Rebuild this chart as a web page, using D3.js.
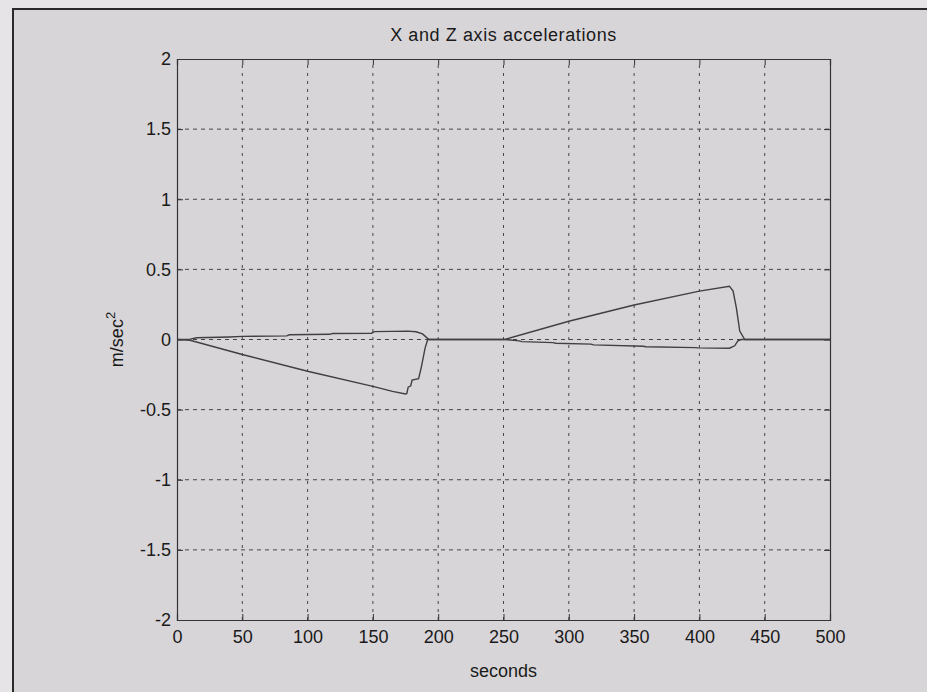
<!DOCTYPE html>
<html><head><meta charset="utf-8">
<script src="https://cdn.jsdelivr.net/npm/d3@7"></script>
<style>
html,body{margin:0;padding:0;background:#e6e4e6;}
svg{display:block;}
text{font-family:"Liberation Sans",Arial,sans-serif;fill:#1a1a1a;}
</style></head>
<body>
<svg id="chart" width="927" height="692"></svg>
<script>
const title = "X and Z axis accelerations";
const xLabel = "seconds";
const xTicks = [0,50,100,150,200,250,300,350,400,450,500];
const yTicks = [-2,-1.5,-1,-0.5,0,0.5,1,1.5,2];
const yTickLabels = ["-2","-1.5","-1","-0.5","0","0.5","1","1.5","2"];

// Series with the large ramps (negative in first manoeuvre, positive in second)
const timeA = [0,10,50,100,150,165,175,176,177,179,180,185,187,190,192,250,251,300,350,400,423,425.8,428.3,430.9,434.7,500];
const accA  = [0,-0.005,-0.107,-0.226,-0.334,-0.37,-0.388,-0.385,-0.34,-0.33,-0.29,-0.28,-0.2,-0.06,0,0,0,0.13,0.246,0.345,0.38,0.345,0.226,0.06,0,0];

// Series with the small steps
const timeB = [0,10,15,40,50,84,86,117,119,149,151,177,183,188,191,193,250,251,262,264,288,290,317,319,357,359,397,399,423,427,429.5,432,500];
const accB  = [0,0.003,0.012,0.018,0.022,0.026,0.034,0.037,0.043,0.045,0.056,0.06,0.055,0.04,0.015,0,0,0,-0.01,-0.015,-0.022,-0.027,-0.033,-0.038,-0.048,-0.052,-0.058,-0.06,-0.062,-0.045,-0.01,0,0];

const svg = d3.select("#chart");
const W = 927, H = 692;
const m = {left:177, right:97, top:59, bottom:72};
const pw = W - m.left - m.right, ph = H - m.top - m.bottom;

// page background (scan)
svg.append("rect").attr("x",13).attr("y",9).attr("width",W).attr("height",H)
  .attr("fill","#d8d5d8").attr("stroke","#2a2a2a").attr("stroke-width",2);

const x = d3.scaleLinear().domain([0,500]).range([m.left, m.left+pw]);
const y = d3.scaleLinear().domain([-2,2]).range([m.top+ph, m.top]);

const g = svg.append("g");

// grid
g.append("g").selectAll("line").data(xTicks.slice(1,-1)).join("line")
  .attr("x1",d=>x(d)).attr("x2",d=>x(d)).attr("y1",y(-2)).attr("y2",y(2))
  .attr("stroke","#454545").attr("stroke-width",1).attr("stroke-dasharray","3,5");
g.append("g").selectAll("line").data(yTicks.slice(1,-1)).join("line")
  .attr("y1",d=>y(d)).attr("y2",d=>y(d)).attr("x1",x(0)).attr("x2",x(500))
  .attr("stroke","#454545").attr("stroke-width",1).attr("stroke-dasharray","4,4");

// axes (MATLAB box with inward ticks on all sides)
const tl = 6;
const axB = d3.axisBottom(x).tickValues(xTicks).tickSize(-tl).tickPadding(10).tickFormat(d3.format("d"));
const axT = d3.axisTop(x).tickValues(xTicks).tickSize(-tl).tickFormat("");
const axL = d3.axisLeft(y).tickValues(yTicks).tickSize(-tl).tickPadding(6).tickFormat((d,i)=>yTickLabels[i]);
const axR = d3.axisRight(y).tickValues(yTicks).tickSize(-tl).tickFormat("");
function style(sel){
  sel.select(".domain").attr("stroke","#333").attr("stroke-width",1.2);
  sel.selectAll(".tick line").attr("stroke","#333");
  sel.selectAll("text").style("font-size","18px").attr("fill","#1a1a1a");
}
g.append("g").attr("transform",`translate(0,${y(-2)})`).call(axB).call(style);
g.append("g").attr("transform",`translate(0,${y(2)})`).call(axT).call(style);
g.append("g").attr("transform",`translate(${x(0)},0)`).call(axL).call(style);
g.append("g").attr("transform",`translate(${x(500)},0)`).call(axR).call(style);

// lines
const line = d3.line().x(d=>x(d[0])).y(d=>y(d[1]));
g.append("path").datum(timeA.map((t,i)=>[t,accA[i]])).attr("d",line)
  .attr("fill","none").attr("stroke","#404040").attr("stroke-width",1.4);
g.append("path").datum(timeB.map((t,i)=>[t,accB[i]])).attr("d",line)
  .attr("fill","none").attr("stroke","#404040").attr("stroke-width",1.4);

// labels
svg.append("text").attr("x",x(250)).attr("y",41).attr("text-anchor","middle")
  .style("font-size","18px").style("letter-spacing","0.6px").text(title);
svg.append("text").attr("x",x(250)).attr("y",677).attr("text-anchor","middle")
  .style("font-size","18px").text(xLabel);
const yl = svg.append("text").attr("transform",`translate(123,${y(0)}) rotate(-90)`)
  .attr("text-anchor","middle").style("font-size","18px");
yl.append("tspan").text("m/sec");
yl.append("tspan").attr("dy",-8).style("font-size","13px").text("2");
</script>
</body></html>
